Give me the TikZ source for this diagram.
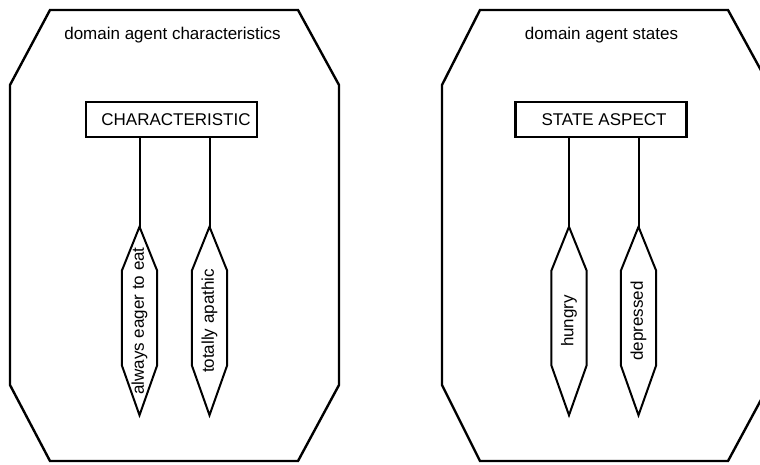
\documentclass[tikz,border=0pt]{standalone}
\usepackage{fontspec}
\setmainfont{Liberation Sans}
\tikzset{
  frame/.style={line width=2.4pt, line join=miter},
  cbox/.style={draw, line width=2.2pt, minimum width=171pt, minimum height=35pt, inner sep=0pt, font=\fontsize{17}{20}\selectfont},
  hexbox/.style={minimum width=35pt, minimum height=188pt, inner sep=0pt},
  hexline/.style={line width=2pt, line join=miter},
  lbl/.style={font=\fontsize{17}{20}\selectfont, inner sep=0pt},
  conn/.style={line width=2pt}
}
\newcommand{\myhex}[4]{%
  \node[hexbox] (#1) at (#2,#3) {};
  \draw[hexline] (#1.north) -- ([yshift=-44pt]#1.north east) -- ([yshift=50pt]#1.south east)
    -- (#1.south) -- ([yshift=50pt]#1.south west) -- ([yshift=-44pt]#1.north west) -- cycle;
  \node[lbl, rotate=90] (#1t) at (#1.center) {#4};
}
\begin{document}
\begin{tikzpicture}[x=1pt, y=-1pt]
  \useasboundingbox (0,0) rectangle (760,465);
  \clip (0,0) rectangle (760,465);
  % left container
  \draw[frame] (50,10) -- (298,10) -- (339,85) -- (339,385) -- (298,461) -- (50,461) -- (10,385) -- (10,85) -- cycle;
  \node[lbl] (t1) at (172.5,35) {domain agent characteristics};
  \node[cbox] (c1) at (171.5,119.5) {\hspace*{9pt}CHARACTERISTIC};
  \myhex{h1}{139.5}{321}{always eager to eat}
  \myhex{h2}{209.5}{321}{totally apathic}
  \draw[conn] (c1.south -| h1.north) -- (h1.north);
  \draw[conn] (c1.south -| h2.north) -- (h2.north);
  % right container
  \draw[frame] (480,10) -- (728,10) -- (769,85) -- (769,385) -- (728,461) -- (480,461) -- (442,385) -- (442,85) -- cycle;
  \node[lbl] (t2) at (601.5,35) {domain agent states};
  \node[cbox] (c2) at (601,119.5) {\hspace*{6pt}STATE ASPECT};
  \myhex{h3}{569}{321}{hungry}
  \myhex{h4}{638.5}{321}{depressed}
  \draw[conn] (c2.south -| h3.north) -- (h3.north);
  \draw[conn] (c2.south -| h4.north) -- (h4.north);
\end{tikzpicture}
\end{document}
